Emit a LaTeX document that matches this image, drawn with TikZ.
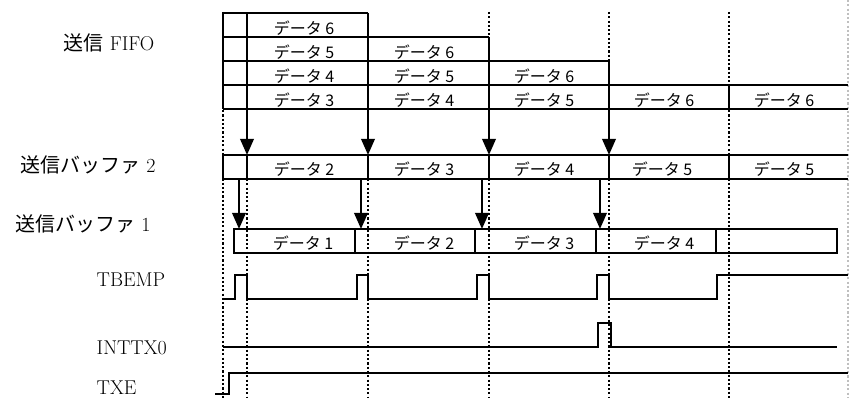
\documentclass[tikz,border=0pt]{standalone}
\usepackage{fontspec}
\usepackage{tikz}
\usetikzlibrary{arrows.meta}
\newfontfamily\jpfont{Noto Sans CJK JP}

\tikzset{
  box/.style={line width=1.8pt},
  wave/.style={line width=1.6pt},
  guide/.style={line width=1.6pt, dash pattern=on 1.6pt off 1.6pt},
  push/.style={line width=1.8pt, -{Triangle[width=10pt,length=12pt]}},
  lab/.style={font=\fontsize{15}{17}\selectfont},
  sig/.style={font=\fontsize{15}{17}\selectfont, anchor=west},
  dat/.style={font=\jpfont\fontsize{12}{14}\selectfont},
}

\begin{document}
\begin{tikzpicture}[x=0.75pt, y=-0.75pt]
\useasboundingbox (0,0) rectangle (849,398);
% Time grid (dotted)
\draw[guide] (223,12) -- (223,398);
\draw[guide] (247,179) -- (247,398);
\draw[guide] (368,179) -- (368,398);
\draw[guide] (489,12) -- (489,37);
\draw[guide] (489,179) -- (489,398);
\draw[guide] (609,12) -- (609,61);
\draw[guide] (609,179) -- (609,398);
\draw[guide] (729,12) -- (729,398);
\draw[guide, gray!50, line width=1pt] (848,0) -- (848,398);
% Send FIFO
\draw[box] (223,13) -- (368,13);
\draw[box] (223,37) -- (489,37);
\draw[box] (223,61) -- (609,61);
\draw[box] (223,85) -- (848,85);
\draw[box] (223,109) -- (848,109);
\draw[box] (223,13) -- (223,109);
\draw[box] (729,85) -- (729,109);
\node[dat] (fifo-1-1) at (304,28) {データ 6};
\node[dat] (fifo-2-1) at (304,52) {データ 5};
\node[dat] (fifo-2-2) at (424,52) {データ 6};
\node[dat] (fifo-3-1) at (304,76) {データ 4};
\node[dat] (fifo-3-2) at (424,76) {データ 5};
\node[dat] (fifo-3-3) at (544,76) {データ 6};
\node[dat] (fifo-4-1) at (304,100) {データ 3};
\node[dat] (fifo-4-2) at (424,100) {データ 4};
\node[dat] (fifo-4-3) at (544,100) {データ 5};
\node[dat] (fifo-4-4) at (664,100) {データ 6};
\node[dat] (fifo-4-5) at (784,100) {データ 6};
% FIFO -> buffer 2
\draw[push] (247,13) -- (247,155);
\draw[push] (368,13) -- (368,155);
\draw[push] (489,37) -- (489,155);
\draw[push] (609,61) -- (609,155);
% Send buffer 2
\draw[box] (848,155) -- (223,155) -- (223,179) -- (848,179);
\draw[box] (247,155) -- (247,179);
\draw[box] (368,155) -- (368,179);
\draw[box] (489,155) -- (489,179);
\draw[box] (609,155) -- (609,179);
\draw[box] (729,155) -- (729,179);
\node[dat] (buf2-1) at (304,169) {データ 2};
\node[dat] (buf2-2) at (424,169) {データ 3};
\node[dat] (buf2-3) at (544,169) {データ 4};
\node[dat] (buf2-4) at (662,169) {データ 5};
\node[dat] (buf2-5) at (784,169) {データ 5};
% Buffer 2 -> buffer 1
\draw[push] (239,179) -- (239,229);
\draw[push] (361,179) -- (361,229);
\draw[push] (482,179) -- (482,229);
\draw[push] (600,179) -- (600,229);
% Send buffer 1
\draw[box] (234,229) rectangle (837,253);
\draw[box] (355,229) -- (355,253);
\draw[box] (475,229) -- (475,253);
\draw[box] (596,229) -- (596,253);
\draw[box] (716,229) -- (716,253);
\node[dat] (buf1-1) at (303,243) {データ 1};
\node[dat] (buf1-2) at (424,243) {データ 2};
\node[dat] (buf1-3) at (544,243) {データ 3};
\node[dat] (buf1-4) at (664,243) {データ 4};
% Signals
\draw[wave] (223,299) -- (235,299) -- (235,275) -- (247,275) -- (247,299)
  -- (357,299) -- (357,275) -- (368,275) -- (368,299)
  -- (477,299) -- (477,275) -- (489,275) -- (489,299)
  -- (597,299) -- (597,275) -- (609,275) -- (609,299)
  -- (717,299) -- (717,275) -- (848,275);
\draw[wave] (223,347) -- (598,347) -- (598,323) -- (611,323) -- (611,347) -- (837,347);
\draw[wave, line width=1.1pt] (215,394) -- (229,394) -- (229,373) -- (848,373);
% Row labels
\node[lab] (fifo) at (109,43) {{\jpfont 送信} FIFO};
\node[lab] (buf2) at (88,165) {{\jpfont 送信バッファ} 2};
\node[lab] (buf1) at (83,224) {{\jpfont 送信バッファ} 1};
\node[sig] (tbemp) at (92,280) {TBEMP};
\node[sig] (inttx) at (92,348) {INTTX0};
\node[sig] (txe) at (92,388) {TXE};
\end{tikzpicture}
\end{document}
